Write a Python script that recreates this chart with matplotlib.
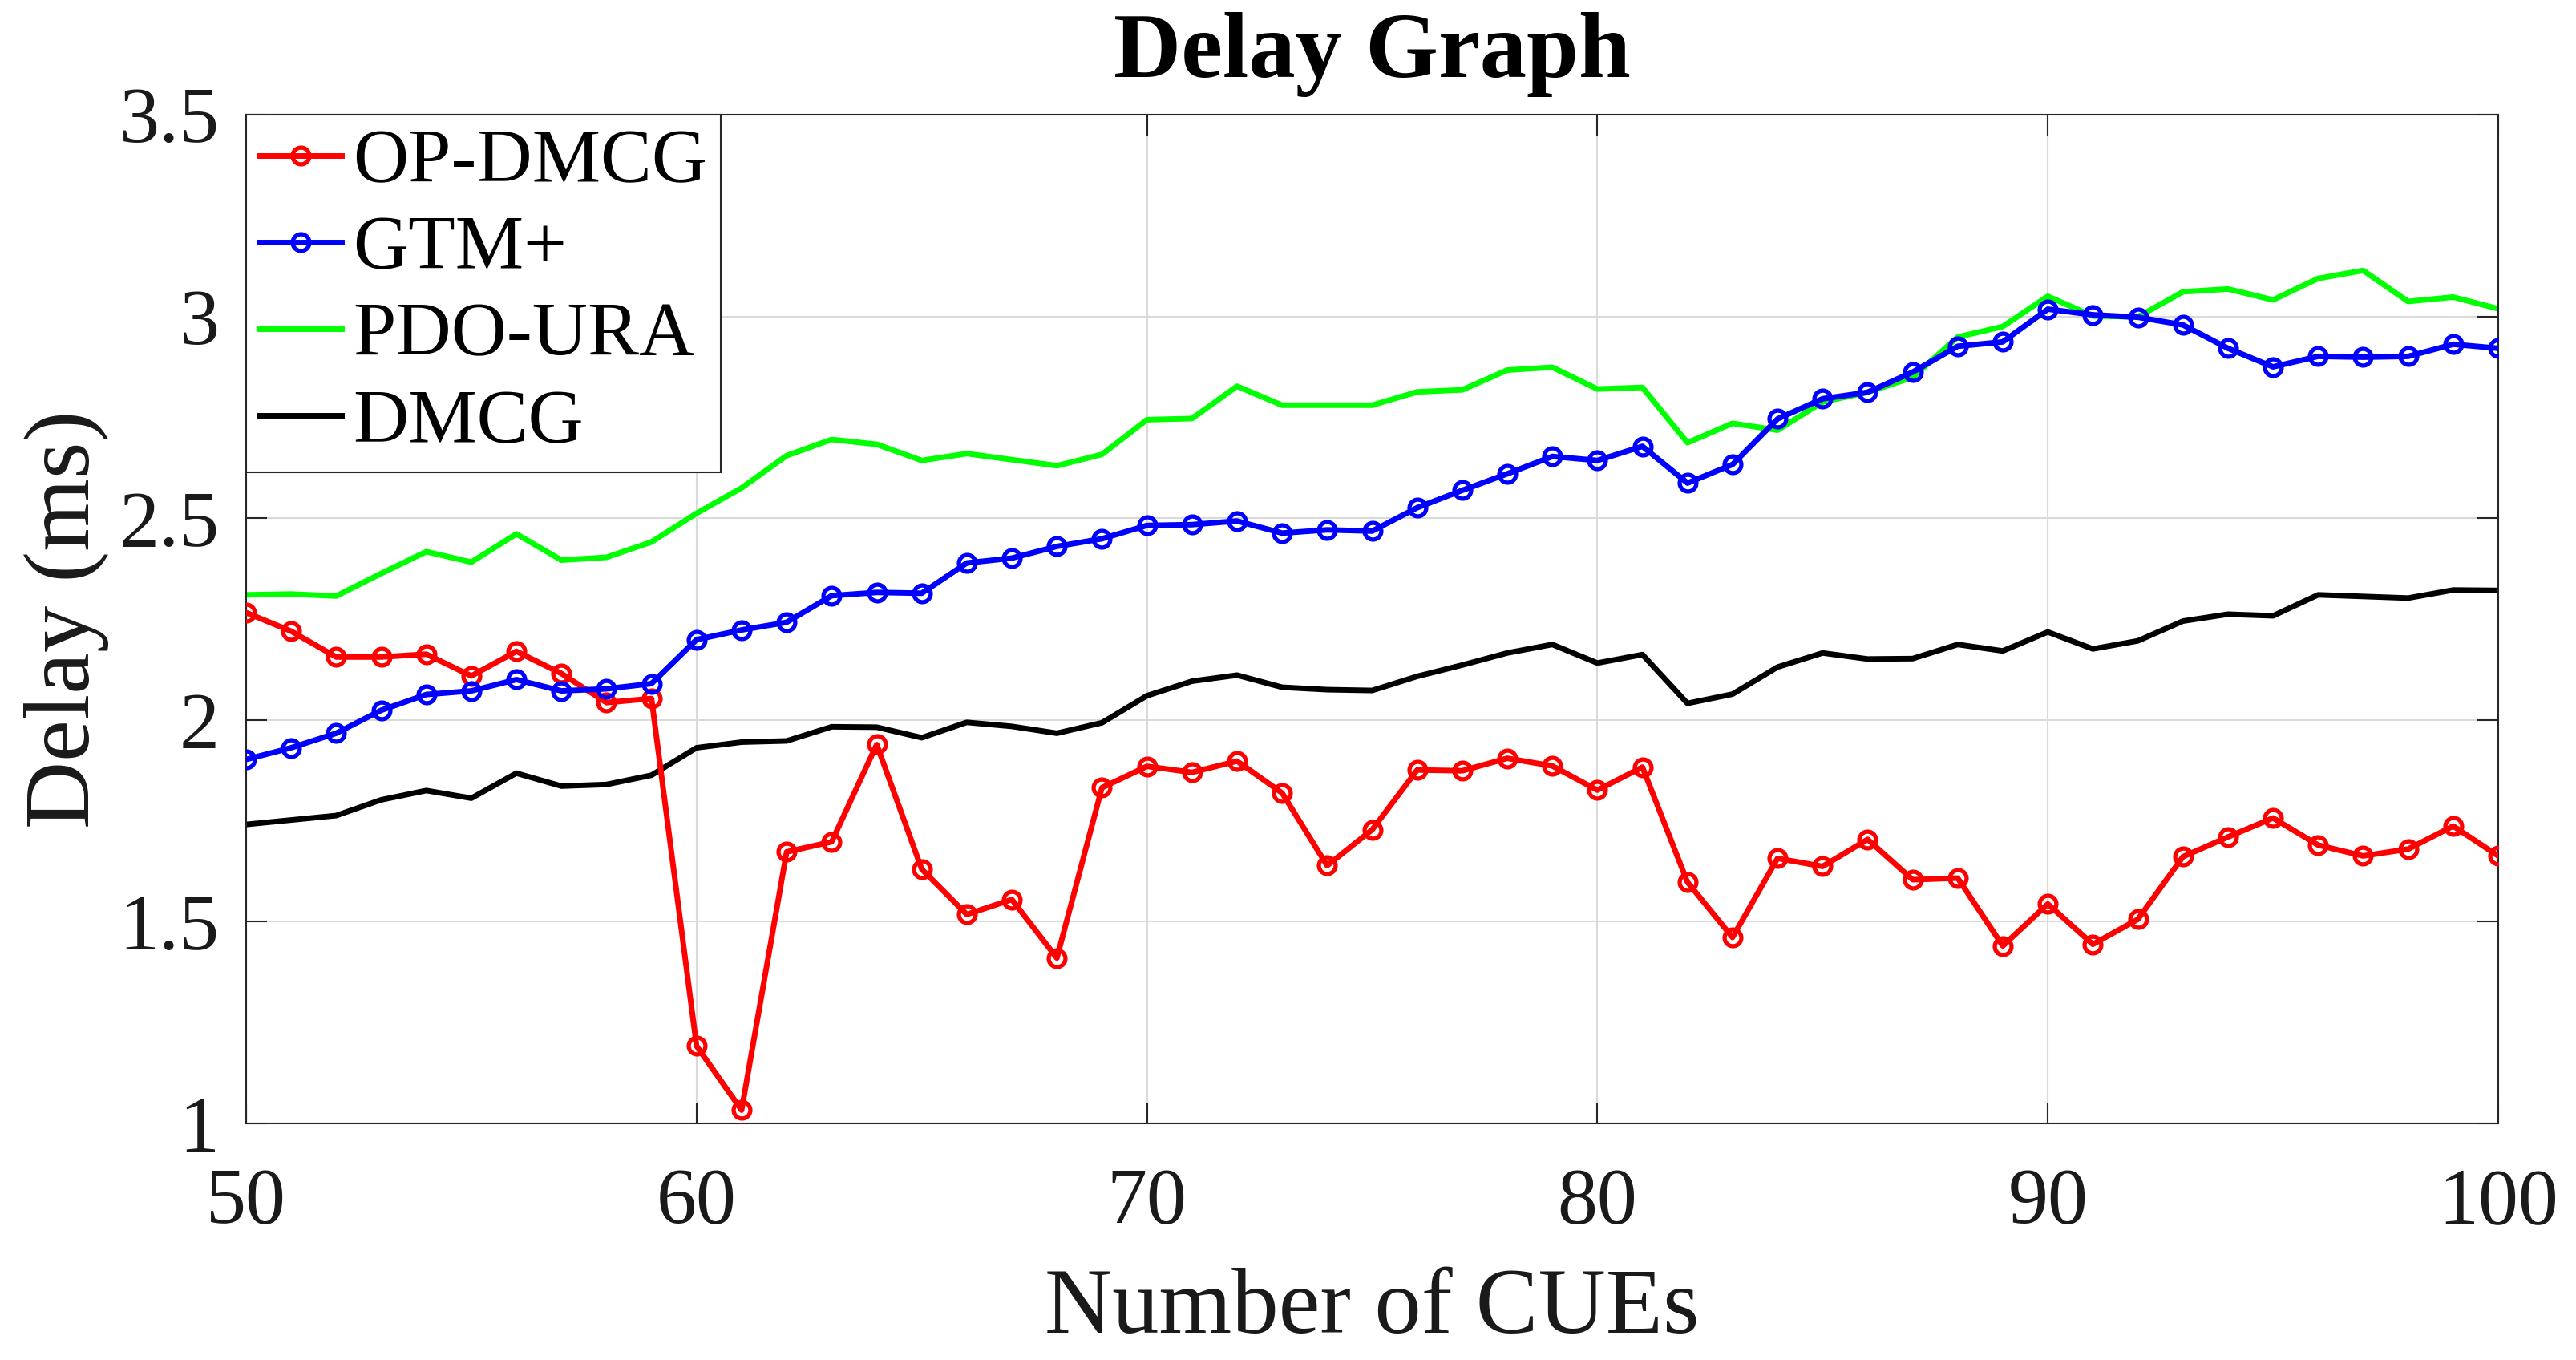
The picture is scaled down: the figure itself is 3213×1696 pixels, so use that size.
import matplotlib
matplotlib.use("Agg")
import matplotlib.pyplot as plt
import numpy as np

plt.rcParams['font.family'] = ['Liberation Serif', 'DejaVu Serif']

cues = list(range(50, 101))

op_dmcg = [2.266, 2.220, 2.156, 2.156, 2.163, 2.109, 2.170, 2.115, 2.043, 2.053,
           1.192, 1.033, 1.673, 1.698, 1.939, 1.630, 1.518, 1.555, 1.410, 1.832,
           1.885, 1.870, 1.898, 1.819, 1.639, 1.728, 1.876, 1.874, 1.905, 1.886,
           1.826, 1.883, 1.598, 1.461, 1.657, 1.637, 1.704, 1.604, 1.608, 1.440,
           1.544, 1.444, 1.506, 1.661, 1.710, 1.757, 1.690, 1.663, 1.680, 1.737,
           1.663]

gtm_plus = [1.902, 1.931, 1.967, 2.024, 2.063, 2.072, 2.100, 2.072, 2.077, 2.090,
            2.199, 2.223, 2.242, 2.308, 2.316, 2.314, 2.389, 2.401, 2.430, 2.449,
            2.482, 2.484, 2.493, 2.463, 2.471, 2.468, 2.526, 2.569, 2.610, 2.653,
            2.643, 2.678, 2.587, 2.633, 2.746, 2.796, 2.812, 2.862, 2.926, 2.937,
            3.018, 3.004, 2.998, 2.979, 2.921, 2.875, 2.901, 2.899, 2.901, 2.931,
            2.921]

pdo_ura = [2.310, 2.312, 2.307, 2.363, 2.417, 2.391, 2.461, 2.396, 2.403, 2.441,
           2.512, 2.575, 2.655, 2.695, 2.683, 2.643, 2.660, 2.645, 2.630, 2.658,
           2.744, 2.747, 2.827, 2.780, 2.780, 2.780, 2.813, 2.818, 2.867, 2.874,
           2.820, 2.824, 2.687, 2.735, 2.718, 2.788, 2.812, 2.849, 2.949, 2.975,
           3.050, 3.001, 2.999, 3.061, 3.068, 3.041, 3.094, 3.114, 3.037, 3.048,
           3.019]

dmcg = [1.741, 1.752, 1.763, 1.802, 1.825, 1.806, 1.868, 1.836, 1.840, 1.863,
        1.931, 1.945, 1.948, 1.983, 1.982, 1.956, 1.994, 1.984, 1.967, 1.993,
        2.060, 2.096, 2.111, 2.081, 2.075, 2.073, 2.108, 2.136, 2.166, 2.187,
        2.141, 2.162, 2.041, 2.064, 2.131, 2.166, 2.151, 2.152, 2.187, 2.171,
        2.218, 2.176, 2.196, 2.245, 2.262, 2.258, 2.310, 2.306, 2.302, 2.322,
        2.321]

labels = ['OP-DMCG', 'GTM+', 'PDO-URA', 'DMCG']
xticks = [50, 60, 70, 80, 90, 100]
yticks = [1, 1.5, 2, 2.5, 3, 3.5]
ytick_labels = ['1', '1.5', '2', '2.5', '3', '3.5']

fig = plt.figure(figsize=(32.13, 16.96), dpi=100)
ax = fig.add_axes([307/3213, 1-1401/1696, 2809/3213, 1258/1696])

lw = 5.0
ax.plot(cues, op_dmcg, color='#FF0000', lw=lw, marker='o', ms=15, mew=3.8,
        mfc='none', label=labels[0], zorder=3)
ax.plot(cues, gtm_plus, color='#0000FF', lw=lw, marker='o', ms=15, mew=3.8,
        mfc='none', label=labels[1], zorder=3)
ax.plot(cues, pdo_ura, color='#00FF00', lw=lw, label=labels[2], zorder=2)
ax.plot(cues, dmcg, color='#000000', lw=lw, label=labels[3], zorder=2)

ax.set_xlim(50, 100)
ax.set_ylim(1, 3.5)
ax.set_xticks(xticks)
ax.set_yticks(yticks)
ax.set_yticklabels(ytick_labels)
ax.grid(True, color='#DADADA', lw=1.5)
ax.set_axisbelow(True)

for s in ax.spines.values():
    s.set_linewidth(1.5)
    s.set_color('#262626')

ax.tick_params(axis='both', direction='in', top=True, right=True,
               length=19, width=1.5, colors='#262626', labelcolor='#1a1a1a')
ax.tick_params(axis='x', labelsize=72, pad=40)
ax.tick_params(axis='y', labelsize=72, pad=24)

ax.set_xlabel('Number of CUEs', fontsize=84, labelpad=25, color='#1a1a1a')
ax.set_ylabel('Delay (ms)', fontsize=84, labelpad=9, color='#1a1a1a')
ax.set_title('Delay Graph', fontsize=84, fontweight='bold', pad=34)

leg = ax.legend(loc='upper left', bbox_to_anchor=(0, 1), borderaxespad=0,
                fontsize=69, handlelength=1.06, handletextpad=0.15,
                borderpad=0.18, labelspacing=0.22, fancybox=False,
                framealpha=1, edgecolor='#262626')
leg.get_frame().set_linewidth(1.5)

fig.savefig('out.png', dpi=100, facecolor='white')
